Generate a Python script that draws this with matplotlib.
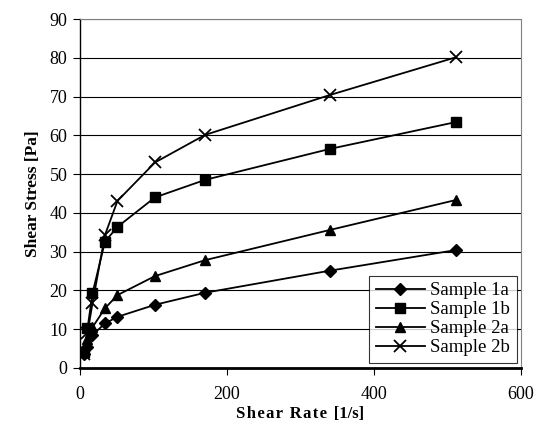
import matplotlib
matplotlib.use("Agg")
import matplotlib.pyplot as plt

shear_rate = [5.1, 10.2, 17, 34, 51, 102, 170, 340, 511]
sample_1a = [3.5, 5.5, 8.5, 11.5, 13.2, 16.3, 19.4, 25.1, 30.4]
sample_1b = [4.0, 10.2, 19.3, 32.6, 36.4, 44.0, 48.5, 56.5, 63.4]
sample_2a = [4.0, 7.5, 10.5, 15.4, 18.8, 23.7, 27.8, 35.6, 43.3]
sample_2b = [3.5, 9.0, 16.7, 34.3, 43.1, 53.0, 60.1, 70.4, 80.1]
labels = ["Sample 1a", "Sample 1b", "Sample 2a", "Sample 2b"]

plt.rcParams['font.family'] = ['Liberation Serif', 'DejaVu Serif']

fig = plt.figure(figsize=(5.42, 4.41), dpi=100)
ax = fig.add_axes([80/542, 1-368/441, (521-80)/542, (368-19)/441])

styles = [dict(marker='D', ms=6), dict(marker='s', ms=6.5),
          dict(marker='^', ms=7.5), dict(marker='x', ms=8, mew=1.3)]
for ys, lab, st in zip([sample_1a, sample_1b, sample_2a, sample_2b], labels, styles):
    ax.plot(shear_rate, ys, color='black', lw=1.3, mfc='black', mec='black',
            label=lab, **st)

ax.set_xlim(0, 600)
ax.set_ylim(0, 90)
ax.set_xticks([0, 200, 400, 600])
ax.set_yticks(range(0, 91, 10))
ax.yaxis.grid(True, color='black', lw=0.8)
ax.set_axisbelow(True)
for s in ['top', 'right']:
    ax.spines[s].set_color('#808080')
    ax.spines[s].set_linewidth(0.8)
ax.spines['bottom'].set_linewidth(2.0)
ax.spines['left'].set_linewidth(1.0)
ax.tick_params(axis='both', direction='out', length=5, width=0.8, labelsize=13, pad=4)
ax.tick_params(axis='x', pad=8)

ax.set_xlabel("S h e a r  R a t e  [1/s]".replace("  ", "\u2009\u2009").replace(" ", "\u200a"),
              fontsize=12, fontweight='bold', labelpad=2,
              family=['Liberation Serif', 'DejaVu Serif'])
ax.set_ylabel("Shear Stress [Pa]", fontsize=12.5, fontweight='bold', labelpad=6)

leg = ax.legend(loc='lower right', bbox_to_anchor=(0.99, 0.015), fontsize=13.5,
                frameon=True, fancybox=False, edgecolor='black', handlelength=2.6,
                handletextpad=0.3, labelspacing=0.1, borderpad=0.35, borderaxespad=0)
leg.get_frame().set_linewidth(0.8)

fig.savefig("out.png", dpi=100)
